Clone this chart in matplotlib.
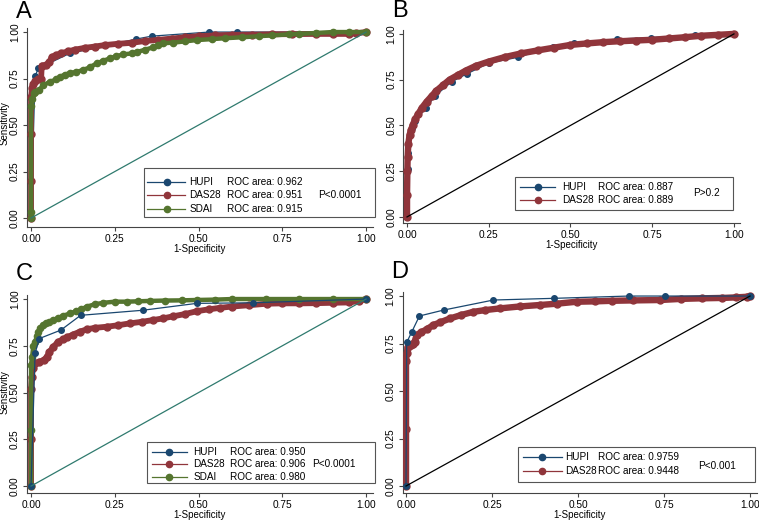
import matplotlib
matplotlib.use('Agg')
import matplotlib.pyplot as plt
from matplotlib.lines import Line2D
from matplotlib.patches import Rectangle

plt.rcParams['font.family'] = ['Liberation Sans', 'DejaVu Sans']

# ---- data ----
a_hupi_fpr = [0, 0.012, 0.022, 0.115, 0.313, 0.36, 0.532, 0.614, 1.0]
a_hupi_tpr = [0, 0.763, 0.805, 0.885, 0.962, 0.978, 1.0, 1.0, 1.0]
a_das_fpr = [0, 0, 0, 0, 0.003, 0.006, 0.012, 0.02, 0.03, 0.032, 0.045, 0.055, 0.062, 0.075,
             0.09, 0.11, 0.13, 0.16, 0.19, 0.22, 0.26, 0.3, 0.34, 0.38, 0.42, 0.46, 0.5, 0.55,
             0.6, 0.66, 0.72, 0.78, 0.85, 0.9, 0.95, 0.97, 1.0]
a_das_tpr = [0, 0.2, 0.45, 0.65, 0.70, 0.72, 0.735, 0.745, 0.75, 0.82, 0.823, 0.84, 0.866, 0.876,
             0.886, 0.896, 0.905, 0.915, 0.922, 0.93, 0.937, 0.942, 0.952, 0.958, 0.965, 0.972, 0.978, 0.982,
             0.985, 0.986, 0.988, 0.989, 0.99, 0.99, 0.99, 0.993, 1.0]
a_sdai_fpr = [0, 0, 0, 0.004, 0.008, 0.012, 0.025, 0.037, 0.057, 0.075, 0.087, 0.1, 0.116, 0.135,
              0.155, 0.175, 0.196, 0.215, 0.236, 0.255, 0.275, 0.3, 0.315, 0.34, 0.365, 0.38, 0.395,
              0.424, 0.46, 0.495, 0.54, 0.58, 0.63, 0.68, 0.72, 0.77, 0.8, 0.85, 0.9, 0.95, 1.0]
a_sdai_tpr = [0, 0.03, 0.6, 0.64, 0.67, 0.68, 0.69, 0.715, 0.733, 0.745, 0.76, 0.77, 0.78, 0.785,
              0.796, 0.81, 0.832, 0.845, 0.859, 0.87, 0.88, 0.885, 0.892, 0.905, 0.918, 0.93, 0.94,
              0.943, 0.95, 0.957, 0.962, 0.967, 0.972, 0.978, 0.982, 0.988, 0.99, 0.995, 1.0, 1.0, 1.0]

b_hupi_fpr = [0, 0.002, 0.004, 0.016, 0.025, 0.057, 0.085, 0.137, 0.182, 0.25, 0.338, 0.446, 0.51,
              0.642, 0.747, 0.88, 1.0]
b_hupi_tpr = [0, 0.26, 0.348, 0.485, 0.526, 0.593, 0.66, 0.739, 0.781, 0.84, 0.872, 0.93, 0.948,
              0.972, 0.98, 0.995, 1.0]
b_das_fpr = [0, 0, 0.001, 0.002, 0.004, 0.008, 0.012, 0.018, 0.025, 0.035, 0.045, 0.06, 0.075, 0.09,
             0.11, 0.13, 0.155, 0.18, 0.21, 0.25, 0.3, 0.35, 0.4, 0.45, 0.5, 0.55, 0.6, 0.65, 0.7,
             0.75, 0.8, 0.85, 0.9, 0.95, 1.0]
b_das_tpr = [0, 0.12, 0.25, 0.33, 0.4, 0.45, 0.475, 0.505, 0.535, 0.565, 0.595, 0.63, 0.66, 0.69,
             0.72, 0.75, 0.775, 0.80, 0.825, 0.849, 0.874, 0.894, 0.91, 0.925, 0.94, 0.948, 0.955, 0.96, 0.964,
             0.968, 0.975, 0.982, 0.99, 0.995, 1.0]

c_hupi_fpr = [0, 0.012, 0.025, 0.089, 0.148, 0.333, 0.495, 0.664, 1.0]
c_hupi_tpr = [0, 0.71, 0.789, 0.834, 0.913, 0.94, 0.977, 0.98, 1.0]
c_das_fpr = [0, 0, 0, 0.002, 0.006, 0.012, 0.025, 0.04, 0.047, 0.055, 0.067, 0.08, 0.095, 0.107,
             0.125, 0.145, 0.166, 0.19, 0.226, 0.26, 0.295, 0.33, 0.365, 0.395, 0.425, 0.46, 0.495,
             0.53, 0.564, 0.6, 0.65, 0.703, 0.75, 0.8, 0.85, 0.9, 0.95, 0.98, 1.0]
c_das_tpr = [0, 0.25, 0.52, 0.585, 0.63, 0.656, 0.665, 0.675, 0.69, 0.718, 0.745, 0.77, 0.785, 0.795,
             0.81, 0.825, 0.838, 0.846, 0.852, 0.86, 0.87, 0.878, 0.888, 0.897, 0.908, 0.92, 0.935,
             0.945, 0.953, 0.96, 0.967, 0.975, 0.977, 0.977, 0.978, 0.98, 0.982, 0.99, 1.0]
c_sdai_fpr = [0, 0, 0, 0.003, 0.007, 0.012, 0.017, 0.022, 0.027, 0.035, 0.045, 0.055, 0.067, 0.08,
              0.095, 0.116, 0.135, 0.15, 0.166, 0.19, 0.216, 0.25, 0.286, 0.32, 0.355, 0.4, 0.45,
              0.495, 0.55, 0.6, 0.7, 0.8, 0.9, 1.0]
c_sdai_tpr = [0, 0.3, 0.65, 0.69, 0.75, 0.77, 0.8, 0.825, 0.845, 0.861, 0.87, 0.876, 0.888, 0.898,
              0.91, 0.923, 0.935, 0.945, 0.959, 0.972, 0.98, 0.986, 0.986, 0.988, 0.99, 0.992, 0.993,
              0.995, 0.997, 1.0, 1.0, 1.0, 1.0, 1.0]

d_hupi_fpr = [0, 0.002, 0.017, 0.039, 0.109, 0.254, 0.431, 0.648, 0.753, 1.0]
d_hupi_tpr = [0, 0.756, 0.812, 0.895, 0.926, 0.979, 0.988, 1.0, 1.0, 1.0]
d_das_fpr = [0, 0, 0, 0.002, 0.005, 0.01, 0.015, 0.02, 0.025, 0.031, 0.045, 0.06, 0.079, 0.1, 0.128,
             0.16, 0.196, 0.23, 0.273, 0.33, 0.39, 0.44, 0.496, 0.55, 0.6, 0.66, 0.738, 0.8, 0.86,
             0.92, 0.96, 0.99, 1.0]
d_das_tpr = [0, 0.3, 0.66, 0.70, 0.73, 0.735, 0.74, 0.75, 0.76, 0.795, 0.81, 0.825, 0.847, 0.862, 0.882,
             0.9, 0.917, 0.926, 0.935, 0.945, 0.953, 0.96, 0.97, 0.972, 0.975, 0.977, 0.979, 0.985, 0.988,
             0.99, 0.993, 0.996, 1.0]

ticks = [0, 0.25, 0.5, 0.75, 1.0]
tick_labels = ['0.00', '0.25', '0.50', '0.75', '1.00']

navy = '#1a476f'
maroon = '#90353b'
green = '#55752f'
teal = '#2f7a6e'

W, H = 759, 520
fig = plt.figure(figsize=(W / 100, H / 100), dpi=100)


def fx(x):
    return x / W


def fy(y):
    return 1 - y / H


def make_axes(rect, ylim_lo):
    ax = fig.add_axes(rect)
    ax.set_xlim(-0.012, 1.02)
    ax.set_ylim(ylim_lo, 1.02)
    for s in ['top', 'right']:
        ax.spines[s].set_visible(False)
    for s in ['left', 'bottom']:
        ax.spines[s].set_color('#444444')
        ax.spines[s].set_linewidth(0.8)
    ax.set_xticks(ticks)
    ax.set_xticklabels(tick_labels, fontsize=7.3)
    ax.set_yticks(ticks)
    ax.set_yticklabels(tick_labels, fontsize=7.3, rotation=90, va='center')
    ax.tick_params(direction='out', length=3, width=0.8, color='#444444', pad=2)
    ax.set_xlabel('1-Specificity', fontsize=7, labelpad=0)
    return ax


def thin(ax, x, y, c):
    ax.plot(x, y, '-o', color=c, lw=0.9, ms=4, zorder=3)


def thick(ax, x, y, c, lw=4.2, ms=5):
    ax.plot(x, y, '-o', color=c, lw=lw, ms=ms, solid_capstyle='round',
            solid_joinstyle='round', zorder=3)


def legend(box, rows, sample, name_x, roc_x, p_text, p_pos):
    x0, y0, x1, y1 = box
    fig.add_artist(Rectangle((fx(x0), fy(y1)), (x1 - x0) / W, (y1 - y0) / H,
                             transform=fig.transFigure, fill=False,
                             ec='#555555', lw=0.8))
    for yy, c, name, roc in rows:
        fig.add_artist(Line2D([fx(sample[0]), fx(sample[1])], [fy(yy), fy(yy)],
                              transform=fig.transFigure, color=c, lw=0.9))
        fig.add_artist(Line2D([fx(sample[2])], [fy(yy)], transform=fig.transFigure,
                              marker='o', color=c, ms=4.5))
        fig.text(fx(name_x), fy(yy), name, fontsize=7.2, va='center', ha='left')
        fig.text(fx(roc_x), fy(yy), roc, fontsize=7.2, va='center', ha='left')
    fig.text(fx(p_pos[0]), fy(p_pos[1]), p_text, fontsize=7.2, va='center', ha='left')


# ---- panel A ----
axA = make_axes([0.0356, 0.5635, 0.4555, 0.382], -0.048)
thin(axA, a_hupi_fpr, a_hupi_tpr, navy)
thick(axA, a_das_fpr, a_das_tpr, maroon)
thick(axA, a_sdai_fpr, a_sdai_tpr, green, lw=3.2, ms=4.5)
axA.plot([0, 1], [0, 1], color=teal, lw=0.9, zorder=4)
legend((143.7, 168.3, 375, 216.7),
       [(181.7, navy, 'HUPI', 'ROC area: 0.962'),
        (195.0, maroon, 'DAS28', 'ROC area: 0.951'),
        (209.0, green, 'SDAI', 'ROC area: 0.915')],
       (146.7, 185, 166.7), 189.3, 226.7, 'P<0.0001', (318.3, 195.0))

# ---- panel B ----
axB = make_axes([0.5311, 0.5712, 0.4445, 0.3706], -0.033)
thin(axB, b_hupi_fpr, b_hupi_tpr, navy)
thick(axB, b_das_fpr, b_das_tpr, maroon, lw=4.6)
axB.plot([0, 1], [0, 1], color='black', lw=0.9, zorder=4)
legend((515, 177.3, 733.3, 210),
       [(186.7, navy, 'HUPI', 'ROC area: 0.887'),
        (200.0, maroon, 'DAS28', 'ROC area: 0.889')],
       (520, 555, 538.3), 561.7, 598.3, 'P>0.2', (693.3, 193.3))

# ---- panel C ----
axC = make_axes([0.0356, 0.0519, 0.4555, 0.3802], -0.037)
thick(axC, c_das_fpr, c_das_tpr, maroon)
thick(axC, c_sdai_fpr, c_sdai_tpr, green, lw=3.2, ms=4.5)
thin(axC, c_hupi_fpr, c_hupi_tpr, navy)
axC.plot([0, 1], [0, 1], color=teal, lw=0.9, zorder=4)
legend((146.7, 441.7, 375, 483.3),
       [(451.7, navy, 'HUPI', 'ROC area: 0.950'),
        (464.0, maroon, 'DAS28', 'ROC area: 0.906'),
        (476.7, green, 'SDAI', 'ROC area: 0.980')],
       (151.7, 186.7, 169.3), 193.3, 230, 'P<0.0001', (311.7, 464.0))

# ---- panel D ----
axD = make_axes([0.5304, 0.0515, 0.4668, 0.3865], -0.038)
axD.set_xlim(-0.01, 1.02)
thick(axD, d_das_fpr, d_das_tpr, maroon, lw=4.6)
thin(axD, d_hupi_fpr, d_hupi_tpr, navy)
axD.plot([0, 1], [0, 1], color='black', lw=0.9, zorder=4)
legend((518.3, 446.7, 755, 481.7),
       [(456.7, navy, 'HUPI', 'ROC area: 0.9759'),
        (470.7, maroon, 'DAS28', 'ROC area: 0.9448')],
       (523.3, 561.7, 541.7), 565, 598.3, 'P<0.001', (698.3, 466.0))

# y labels and panel letters
fig.text(fx(5), fy(123), 'Sensitivity', fontsize=7, rotation=90, va='center', ha='center')
fig.text(fx(5), fy(391.7), 'Sensitivity', fontsize=7, rotation=90, va='center', ha='center')
fig.text(fx(16), fy(18), 'A', fontsize=17, va='baseline')
fig.text(fx(392), fy(17), 'B', fontsize=17, va='baseline')
fig.text(fx(16), fy(280), 'C', fontsize=17, va='baseline')
fig.text(fx(391), fy(278), 'D', fontsize=17, va='baseline')

fig.savefig('out.png', dpi=100)
